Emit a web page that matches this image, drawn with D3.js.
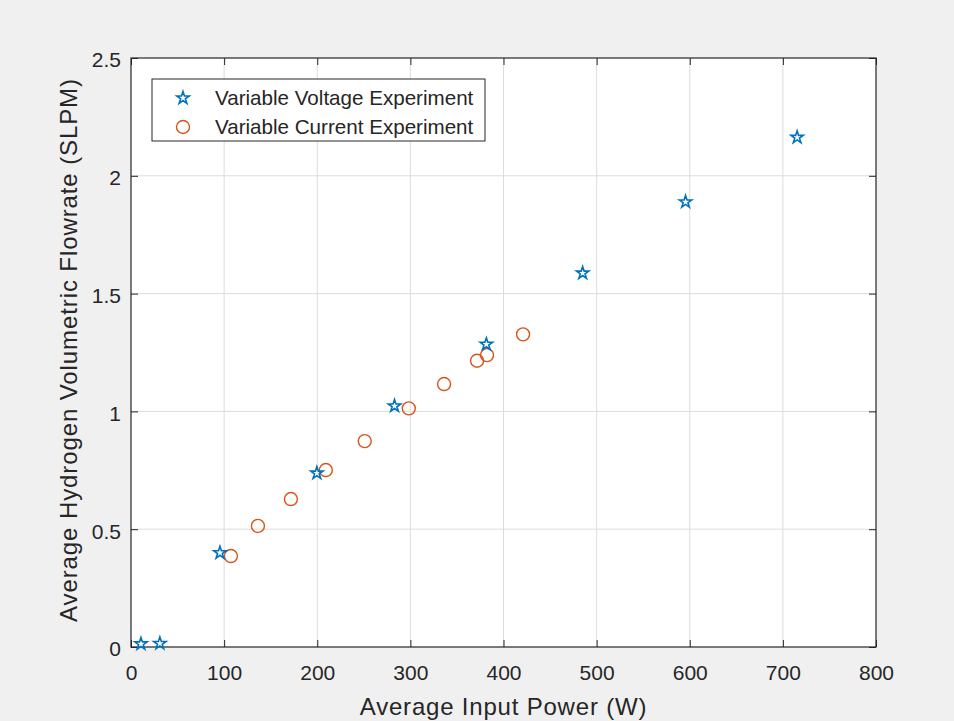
<!DOCTYPE html>
<html>
<head>
<meta charset="utf-8">
<script src="https://cdn.jsdelivr.net/npm/d3@7"></script>
<style>
  body { margin: 0; background: #f0f0f0; }
  svg { display: block; font-family: "Liberation Sans", Arial, sans-serif; }
</style>
</head>
<body>
<svg id="chart" width="954" height="721"></svg>
<script>
// Variable voltage experiment (stars)
const voltagePower = [10.7, 31, 95.5, 199.6, 283, 381.6, 485, 595.5, 715.3];
const voltageFlow = [0.013, 0.015, 0.40, 0.738, 1.023, 1.285, 1.587, 1.889, 2.163];
// Variable current experiment (circles)
const currentPower = [107.3, 136.3, 171.7, 209.2, 251, 298.3, 336.2, 371.6, 382.3, 421];
const currentFlow = [0.386, 0.514, 0.628, 0.751, 0.874, 1.013, 1.116, 1.215, 1.239, 1.327];

const xTicks = [0, 100, 200, 300, 400, 500, 600, 700, 800];
const yTicks = [0, 0.5, 1, 1.5, 2, 2.5];
const seriesLabels = ["Variable Voltage Experiment", "Variable Current Experiment"];

const margin = { top: 58, right: 78, bottom: 74, left: 131 };
const width = 954 - margin.left - margin.right;
const height = 721 - margin.top - margin.bottom;

const blue = "#0072BD";
const orange = "#D95319";
const textColor = "#262626";

const svg = d3.select("#chart");
const g = svg.append("g").attr("transform", `translate(${margin.left},${margin.top})`);

const x = d3.scaleLinear().domain([0, 800]).range([0, width]);
const y = d3.scaleLinear().domain([0, 2.5]).range([height, 0]);

g.append("rect").attr("width", width).attr("height", height).attr("fill", "#fff");

// grid
g.append("g").selectAll("line").data(xTicks.slice(1, -1)).enter().append("line")
    .attr("x1", d => x(d)).attr("x2", d => x(d))
    .attr("y1", 0).attr("y2", height)
    .attr("stroke", "#dcdcdc").attr("stroke-width", 1);
g.append("g").selectAll("line").data(yTicks.slice(1, -1)).enter().append("line")
    .attr("y1", d => y(d)).attr("y2", d => y(d))
    .attr("x1", 0).attr("x2", width)
    .attr("stroke", "#dcdcdc").attr("stroke-width", 1);

// axes, inward ticks on all sides
const fmt = d => String(d);
const styleAxis = sel => {
    sel.select(".domain").remove();
    sel.selectAll(".tick line").attr("stroke", textColor);
    sel.selectAll(".tick text").attr("fill", textColor).style("font-size", "21px");
};
g.append("g").attr("transform", `translate(0,${height})`)
    .call(d3.axisBottom(x).tickValues(xTicks).tickFormat(fmt).tickSizeInner(-7).tickPadding(18))
    .call(styleAxis);
g.append("g")
    .call(d3.axisLeft(y).tickValues(yTicks).tickFormat(fmt).tickSizeInner(-7).tickPadding(10))
    .call(styleAxis)
    .selectAll(".tick text").attr("dy", "0.42em");
g.append("g")
    .call(d3.axisTop(x).tickValues(xTicks).tickFormat("").tickSizeInner(-7))
    .call(styleAxis);
g.append("g").attr("transform", `translate(${width},0)`)
    .call(d3.axisRight(y).tickValues(yTicks).tickFormat("").tickSizeInner(-7))
    .call(styleAxis);

g.append("rect").attr("width", width).attr("height", height)
    .attr("fill", "none").attr("stroke", textColor).attr("stroke-width", 1.2);

// markers
const star = d3.symbol().type(d3.symbolStar).size(48);

g.append("g").selectAll("circle").data(currentPower).enter().append("circle")
    .attr("cx", d => x(d))
    .attr("cy", (d, i) => y(currentFlow[i]))
    .attr("r", 6.5)
    .attr("fill", "none").attr("stroke", orange).attr("stroke-width", 1.4);

g.append("g").selectAll("path").data(voltagePower).enter().append("path")
    .attr("d", star)
    .attr("transform", (d, i) => `translate(${x(d)},${y(voltageFlow[i])})`)
    .attr("fill", "none").attr("stroke", blue).attr("stroke-width", 1.6)
    .attr("stroke-linejoin", "miter");

// legend
const legend = g.append("g").attr("transform", `translate(${152 - margin.left},${79 - margin.top})`);
legend.append("rect").attr("width", 333).attr("height", 62)
    .attr("fill", "#fff").attr("stroke", textColor).attr("stroke-width", 1);
legend.append("path").attr("d", star).attr("transform", "translate(31,19)")
    .attr("fill", "none").attr("stroke", blue).attr("stroke-width", 1.6);
legend.append("circle").attr("cx", 31).attr("cy", 48).attr("r", 6.5)
    .attr("fill", "none").attr("stroke", orange).attr("stroke-width", 1.4);
legend.selectAll("text").data(seriesLabels).enter().append("text")
    .attr("x", 63).attr("y", (d, i) => 19 + i * 29)
    .attr("dy", "0.36em")
    .attr("fill", textColor).style("font-size", "20.6px")
    .text(d => d);

// axis labels
svg.append("text")
    .attr("x", margin.left + width / 2).attr("y", 715)
    .attr("text-anchor", "middle").attr("fill", textColor)
    .style("font-size", "24px").style("letter-spacing", "0.8px")
    .text("Average Input Power (W)");
svg.append("text")
    .attr("transform", `translate(77,350) rotate(-90)`)
    .attr("text-anchor", "middle").attr("fill", textColor)
    .style("font-size", "24px").style("letter-spacing", "0.9px")
    .text("Average Hydrogen Volumetric Flowrate (SLPM)");
</script>
</body>
</html>
